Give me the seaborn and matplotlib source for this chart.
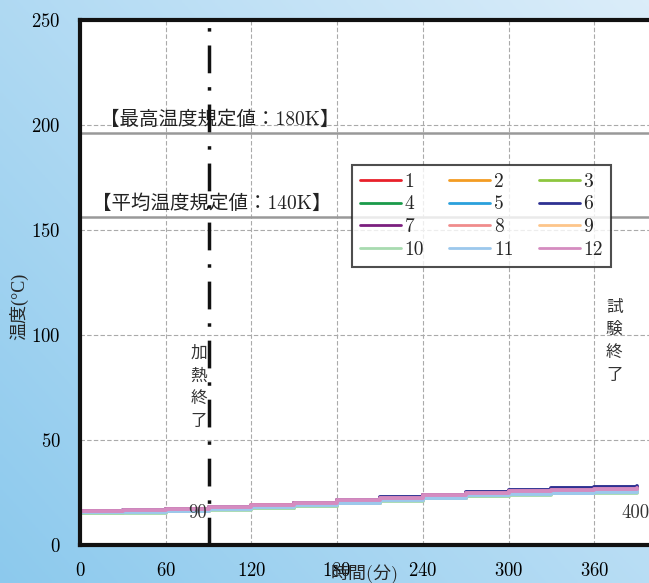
import numpy as np
import pandas as pd
import matplotlib
matplotlib.use("Agg")
import matplotlib.pyplot as plt
import seaborn as sns

# ---- data ----
times = [0, 30, 60, 90, 120, 150, 180, 210, 240, 270, 300, 330, 360, 390]
series_names = ["1", "2", "3", "4", "5", "6", "7", "8", "9", "10", "11", "12"]
s1 = [16.2, 16.4, 17.0, 18.2, 19.0, 20.0, 21.2, 22.4, 23.6, 24.6, 25.4, 26.0, 26.4, 26.8]
s2 = [16.0, 16.2, 16.8, 17.8, 18.6, 19.6, 20.8, 22.0, 23.2, 24.2, 25.0, 25.6, 26.0, 26.4]
s3 = [15.4, 15.6, 16.2, 17.0, 17.8, 18.8, 20.0, 21.2, 22.4, 23.4, 24.2, 24.8, 25.2, 25.6]
s4 = [15.8, 16.0, 16.6, 17.6, 18.6, 19.6, 20.8, 22.0, 23.2, 24.2, 25.0, 25.6, 26.0, 26.4]
s5 = [16.0, 16.2, 16.8, 17.8, 18.4, 19.4, 20.6, 21.8, 23.0, 24.0, 24.8, 25.4, 25.8, 26.2]
s6 = [16.2, 16.6, 17.2, 18.0, 18.8, 20.0, 21.4, 22.8, 24.0, 25.2, 26.4, 27.0, 27.6, 28.0]
s7 = [16.0, 16.4, 17.0, 17.8, 18.6, 19.8, 21.0, 22.4, 23.6, 24.6, 25.6, 26.2, 26.6, 27.0]
s8 = [15.8, 16.0, 16.6, 17.4, 18.2, 19.2, 20.4, 21.6, 22.8, 23.8, 24.8, 25.4, 25.8, 26.2]
s9 = [15.6, 15.8, 16.4, 17.2, 18.0, 19.0, 20.2, 21.4, 22.6, 23.6, 24.4, 25.0, 25.4, 25.8]
s10 = [15.2, 15.4, 16.0, 16.8, 17.6, 18.6, 19.8, 21.0, 22.2, 23.2, 24.0, 24.6, 25.0, 25.4]
s11 = [15.6, 15.8, 16.4, 17.2, 18.0, 19.0, 20.2, 21.4, 22.6, 23.6, 24.4, 25.0, 25.4, 25.8]
s12 = [16.4, 16.6, 17.2, 18.2, 19.0, 20.2, 21.4, 22.6, 23.8, 24.8, 25.8, 26.4, 26.8, 27.2]
all_series = [s1, s2, s3, s4, s5, s6, s7, s8, s9, s10, s11, s12]
colors = ["#e8202a", "#f39c23", "#8dc63f", "#1a9a4a", "#2aa0dc", "#2e3192",
          "#7b1f7f", "#f08c8c", "#fdc58a", "#a8dbb0", "#9cc8ec", "#d58cc0"]

max_limit = 196   # 180K line
avg_limit = 156   # 140K line
heat_end = 90
test_end = 400
xticks = [0, 60, 120, 180, 240, 300, 360]
yticks = [0, 50, 100, 150, 200, 250]

rows = []
for name, vals in zip(series_names, all_series):
    for t, v in zip(times, vals):
        rows.append((t, v, name))
df = pd.DataFrame(rows, columns=["t", "temp", "ch"])

sns.set_theme(style="white")
plt.rcParams["font.family"] = ["cmr10", "Noto Sans CJK JP", "DejaVu Sans"]
plt.rcParams["axes.formatter.use_mathtext"] = True

W, H = 649, 583
fig = plt.figure(figsize=(W / 100, H / 100), dpi=100)

# background gradient
bg = fig.add_axes([0, 0, 1, 1], zorder=-10)
xx = np.linspace(0, 1, 200)
yy = np.linspace(0, 1, 200)
X, Y = np.meshgrid(xx, yy)
tgrad = np.clip(0.55 * X + 0.45 * Y, 0, 1)
c0 = np.array([0.55, 0.79, 0.93])
c1 = np.array([0.86, 0.93, 0.98])
img = c0[None, None, :] * (1 - tgrad[..., None]) + c1[None, None, :] * tgrad[..., None]
bg.imshow(img, origin="lower", extent=[0, 1, 0, 1], aspect="auto")
bg.axis("off")

xmax = 420
px_per_min = 85.7 / 60
ax_w_px = xmax * px_per_min
ax = fig.add_axes([80 / W, 38 / H, ax_w_px / W, 525 / H])
ax.set_facecolor("white")

sns.lineplot(data=df, x="t", y="temp", hue="ch", palette=colors,
             hue_order=series_names, drawstyle="steps-post", lw=2.8,
             ax=ax, legend=True, sort=False)

ax.set_xlim(0, xmax)
ax.set_ylim(0, 250)
ax.set_xticks(xticks)
ax.set_yticks(yticks)
ax.set_xticks(np.arange(0, xmax + 1, 10), minor=True)
ax.set_yticks(np.arange(0, 251, 10), minor=True)
ax.grid(True, which="major", color="#aaaaaa", ls=(0, (4, 2)), lw=0.8)
ax.tick_params(which="both", direction="in", colors="black")
ax.tick_params(which="major", length=8, width=1.2, labelsize=13.5, pad=14)
ax.tick_params(which="minor", length=5, width=1.0)
ax.tick_params(axis="x", which="major", pad=12)
for s in ["left", "bottom", "top"]:
    ax.spines[s].set_color("#111111")
    ax.spines[s].set_linewidth(3)
ax.spines["right"].set_visible(False)

ax.set_xlabel("時間(分)", fontsize=13)
ax.xaxis.set_label_coords(0.475, -0.035)
ax.set_ylabel("温度(°C)", fontsize=13, va="center",
              family=["Liberation Serif", "Noto Sans CJK JP"])
ax.yaxis.set_label_coords(-(80 - 19) / ax_w_px, 0.455)

ax.axhline(max_limit, color="#999999", lw=1.8, zorder=1)
ax.axhline(avg_limit, color="#999999", lw=1.8, zorder=1)
ax.axvline(heat_end, color="#111111", lw=2.5, ls=(0, (8, 4, 1, 4)), zorder=5)

ax.text(98, max_limit + 2, "【最高温度規定値：180K】", fontsize=14,
        ha="center", va="bottom", color="#222222",
        family=["cmr10", "Noto Sans CJK JP"])
ax.text(92, avg_limit + 2, "【平均温度規定値：140K】", fontsize=14,
        ha="center", va="bottom", color="#222222",
        family=["cmr10", "Noto Sans CJK JP"])
ax.text(83, 75, "加\n熱\n終\n了", fontsize=12, ha="center", va="center",
        linespacing=1.45, color="#333333", family=["Noto Sans CJK JP"])
ax.text(374, 97, "試\n験\n終\n了", fontsize=12, ha="center", va="center",
        linespacing=1.45, color="#333333", family=["Noto Sans CJK JP"])
ax.text(heat_end - 8, 15, "90", fontsize=13.5, ha="center", va="center", color="#333333")
ax.text(398.5, 15, "400", fontsize=13.5, ha="right", va="center", color="#333333")

handles, labels = ax.get_legend_handles_labels()
order = [0, 3, 6, 9, 1, 4, 7, 10, 2, 5, 8, 11]
handles = [handles[i] for i in order]
labels = [labels[i] for i in order]
leg = ax.legend(handles, labels, ncol=3, loc="upper left",
                bbox_to_anchor=((352 - 80) / ax_w_px, (545 - 165) / 525),
                borderaxespad=0, fancybox=False, edgecolor="#222222",
                fontsize=14, handlelength=2.1, columnspacing=1.3,
                labelspacing=0.25, handletextpad=0.2, borderpad=0.4)
leg.get_frame().set_linewidth(1.5)
for lh in leg.get_lines():
    lh.set_linewidth(2)

fig.savefig("out.png", dpi=100)
